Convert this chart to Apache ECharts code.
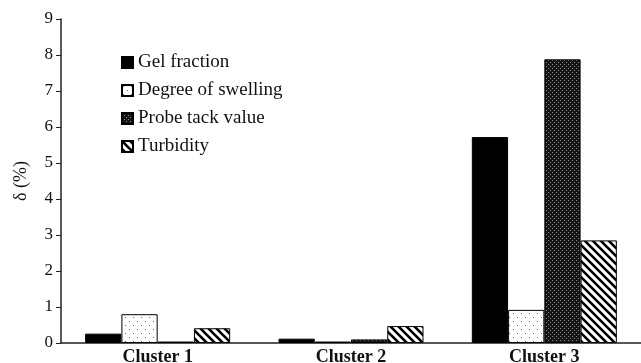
<!DOCTYPE html>
<html>
<head>
<meta charset="utf-8">
<script src="https://cdn.jsdelivr.net/npm/echarts@6/dist/echarts.min.js"></script>
<style>
  html, body { margin: 0; padding: 0; background: #fff; }
  #chart { width: 641px; height: 363px; }
</style>
</head>
<body>
<div id="chart"></div>
<script>
// Relative deviation δ (%) of each property per cluster
const categories = ['Cluster 1', 'Cluster 2', 'Cluster 3'];
const gelFraction = [0.26, 0.12, 5.72];
const degreeOfSwelling = [0.8, 0.04, 0.92];
const probeTackValue = [0.04, 0.1, 7.88];
const turbidity = [0.41, 0.47, 2.85];
const yTicks = [0, 1, 2, 3, 4, 5, 6, 7, 8, 9];

const FONT = '"Liberation Serif", "Times New Roman", serif';

// Fill patterns drawn on small canvases
function makePattern(size, draw) {
  const c = document.createElement('canvas');
  c.width = size; c.height = size;
  const ctx = c.getContext('2d');
  draw(ctx, size);
  return { image: c, repeat: 'repeat' };
}

const dotted = makePattern(8, (ctx, s) => {
  ctx.fillStyle = '#fff'; ctx.fillRect(0, 0, s, s);
  ctx.fillStyle = '#6a6a6a';
  ctx.fillRect(1, 1, 1, 1);
  ctx.fillRect(5, 5, 1, 1);
});

const checker = makePattern(4, (ctx, s) => {
  ctx.fillStyle = '#151515'; ctx.fillRect(0, 0, s, s);
  ctx.fillStyle = '#8a8a8a';
  ctx.fillRect(0, 0, 1, 1);
  ctx.fillRect(2, 2, 1, 1);
});

const striped = makePattern(8, (ctx, s) => {
  ctx.fillStyle = '#fff'; ctx.fillRect(0, 0, s, s);
  ctx.strokeStyle = '#000'; ctx.lineWidth = 2.6;
  for (let k = -1; k <= 1; k++) {
    ctx.beginPath();
    ctx.moveTo(k * s - 1, -1);
    ctx.lineTo(k * s + s + 1, s + 1);
    ctx.stroke();
  }
});

function barSeries(name, data, fill) {
  return {
    name: name,
    type: 'bar',
    data: data,
    barGap: '0%',
    barCategoryGap: '25%',
    itemStyle: { color: fill, borderColor: '#000', borderWidth: 1 }
  };
}

const chart = echarts.init(document.getElementById('chart'), null, { renderer: 'canvas' });
chart.setOption({
  backgroundColor: '#fff',
  animation: false,
  grid: { left: 61, right: 0, top: 19, bottom: 20, containLabel: false, outerBoundsMode: 'none' },
  legend: {
    orient: 'vertical',
    left: 116,
    top: 48,
    itemWidth: 11,
    itemHeight: 11,
    itemGap: 9,
    icon: 'rect',
    textStyle: { fontFamily: FONT, fontSize: 19, color: '#111' },
    data: ['Gel fraction', 'Degree of swelling', 'Probe tack value', 'Turbidity']
  },
  xAxis: {
    type: 'category',
    data: categories,
    axisLine: { lineStyle: { color: '#222', width: 1.5 } },
    axisTick: { inside: true, length: 6, lineStyle: { color: '#222' } },
    axisLabel: { fontFamily: FONT, fontSize: 18, fontWeight: 'bold', color: '#111', margin: 5 }
  },
  yAxis: {
    type: 'value',
    min: yTicks[0],
    max: yTicks[yTicks.length - 1],
    interval: 1,
    name: 'δ (%)',
    nameLocation: 'middle',
    nameGap: 31,
    nameTextStyle: { fontFamily: FONT, fontSize: 18, color: '#111' },
    splitLine: { show: false },
    axisLine: { show: true, lineStyle: { color: '#222', width: 1.5 } },
    axisTick: { show: true, length: 5, lineStyle: { color: '#222' } },
    axisLabel: { fontFamily: FONT, fontSize: 17, color: '#111', margin: 8 }
  },
  series: [
    barSeries('Gel fraction', gelFraction, '#000'),
    barSeries('Degree of swelling', degreeOfSwelling, dotted),
    barSeries('Probe tack value', probeTackValue, checker),
    barSeries('Turbidity', turbidity, striped)
  ]
});
</script>
</body>
</html>
